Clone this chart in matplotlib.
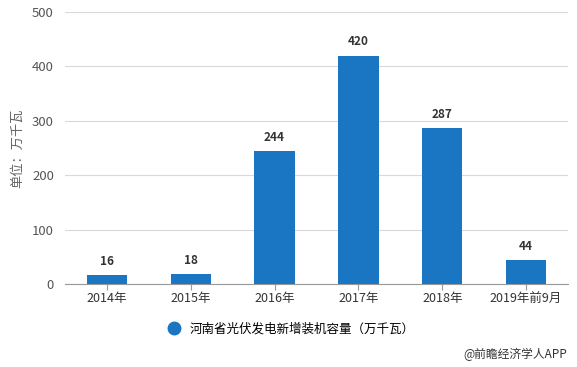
import matplotlib.pyplot as plt
from matplotlib.lines import Line2D

plt.rcParams['font.family'] = ['Noto Sans CJK SC', 'DejaVu Sans']

years = ['2014年', '2015年', '2016年', '2017年', '2018年', '2019年前9月']
capacity = [16, 18, 244, 420, 287, 44]
bar_color = '#1a75c2'

fig = plt.figure(figsize=(5.77, 3.67), dpi=100)
ax = fig.add_axes([65 / 577, 1 - 284 / 367, 503 / 577, 272 / 367])

x = range(len(years))
ax.bar(x, capacity, width=0.48, color=bar_color, zorder=3)
for i, v in zip(x, capacity):
    ax.text(i, v + 13, str(v), ha='center', va='bottom', fontsize=8.5,
            fontweight='bold', color='#333333')

ax.set_xlim(-0.5, len(years) - 0.5)
ax.set_ylim(0, 500)
ax.set_yticks([0, 100, 200, 300, 400, 500])
ax.set_xticks(list(x))
ax.set_xticklabels(years)
ax.grid(axis='y', color='#d9d9d9', linewidth=0.8, zorder=0)
for s in ['top', 'right', 'left']:
    ax.spines[s].set_visible(False)
ax.spines['bottom'].set_color('#999999')
ax.tick_params(axis='y', length=0, labelsize=9.5, labelcolor='#555555', pad=8)
ax.tick_params(axis='x', length=4, color='#999999', labelsize=9, labelcolor='#333333', pad=2)
ax.set_ylabel('单位：万千瓦', fontsize=9.5, color='#666666', labelpad=6)

handle = Line2D([], [], marker='o', linestyle='', markersize=9, color=bar_color)
fig.legend([handle], ['河南省光伏发电新增装机容量（万千瓦）'], loc='center',
           bbox_to_anchor=(288 / 577, 1 - 329 / 367), frameon=False, fontsize=9,
           handletextpad=0.3)
fig.text(567 / 577, 1 - 354 / 367, '@前瞻经济学人APP', ha='right', va='center',
         fontsize=8.5, color='#333333')

fig.savefig('out.png', dpi=100)
